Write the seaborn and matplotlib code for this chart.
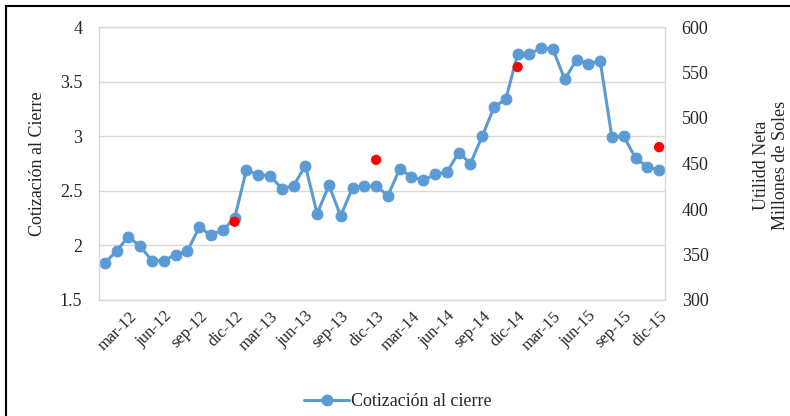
import matplotlib
matplotlib.use("Agg")
import matplotlib.pyplot as plt
import seaborn as sns
import numpy as np
import pandas as pd
from matplotlib.patches import Rectangle

# Datos mensuales ene-12 a dic-15
meses = ['ene', 'feb', 'mar', 'abr', 'may', 'jun', 'jul', 'ago', 'sep', 'oct', 'nov', 'dic']
anios = ['12', '13', '14', '15']

cotizacion = [1.84, 1.95, 2.08, 1.99, 1.86, 1.86, 1.915, 1.95, 2.165, 2.095, 2.14, 2.25,
              2.69, 2.645, 2.64, 2.52, 2.545, 2.73, 2.29, 2.55, 2.27, 2.53, 2.54, 2.545,
              2.455, 2.70, 2.63, 2.595, 2.65, 2.67, 2.85, 2.75, 3.00, 3.265, 3.34, 3.75,
              3.75, 3.81, 3.795, 3.52, 3.70, 3.66, 3.69, 2.99, 3.00, 2.80, 2.72, 2.69]

# Utilidad neta anual (millones de soles), en diciembre de cada año
utilidad_meses = ['dic-12', 'dic-13', 'dic-14', 'dic-15']
utilidad = [386, 454, 556, 468]

etiquetas = [f'{m}-{a}' for a in anios for m in meses]
ticks_mostrados = [e for e in etiquetas if e.split('-')[0] in ('mar', 'jun', 'sep', 'dic')]

df = pd.DataFrame({'Mes': etiquetas, 'pos': range(len(etiquetas)), 'Cotizacion': cotizacion})
df_util = pd.DataFrame({'Mes': utilidad_meses, 'Utilidad': utilidad})
df_util['pos'] = [etiquetas.index(m) for m in utilidad_meses]

sns.set_style('white')
plt.rcParams['font.family'] = ['Liberation Serif', 'DejaVu Serif']

azul = '#5B9BD5'
gris = '#D9D9D9'

fig = plt.figure(figsize=(7.9, 4.16), dpi=100)
ax = fig.add_axes([99 / 790, 1 - 300 / 416, (665 - 99) / 790, (300 - 27) / 416])

sns.lineplot(data=df, x='pos', y='Cotizacion', ax=ax, color=azul, linewidth=2.2,
             marker='o', markersize=7.8, markeredgecolor=azul, label='Cotización al cierre')

ax.set_xlim(-0.5, len(etiquetas) - 0.5)
ax.set_ylim(1.5, 4)
ax.set_yticks(np.arange(1.5, 4.01, 0.5))
ax.set_yticklabels(['1.5', '2', '2.5', '3', '3.5', '4'], fontsize=13)
ax.yaxis.grid(True, color=gris, linewidth=1)
ax.set_xticks([etiquetas.index(t) for t in ticks_mostrados])
ax.set_xticklabels(ticks_mostrados, rotation=45, ha='right', rotation_mode='anchor', fontsize=12)
ax.tick_params(axis='both', length=0)
ax.tick_params(axis='y', pad=12)
ax.tick_params(axis='x', pad=6)
for s in ax.spines.values():
    s.set_color(gris)
    s.set_linewidth(1)
ax.set_xlabel('')
ax.set_ylabel('Cotización al Cierre', fontsize=13, labelpad=10)
ax.get_legend().remove()

ax2 = ax.twinx()
sns.scatterplot(data=df_util, x='pos', y='Utilidad', ax=ax2, color='#FF0000', s=55,
                edgecolor='none', zorder=5)
ax2.set_ylim(300, 600)
ax2.set_yticks(np.arange(300, 601, 50))
ax2.set_yticklabels([str(v) for v in range(300, 601, 50)], fontsize=13)
ax2.tick_params(axis='y', length=0, pad=12)
ax2.set_ylabel('')
ax2.set_xlabel('')
for s in ax2.spines.values():
    s.set_visible(False)

fig.text(771 / 790, 1 - 165 / 416, 'Utilidd Neta\nMillones de Soles', rotation=90,
         ha='center', va='center', multialignment='center', fontsize=13, linespacing=1.2)

fig.legend([ax.lines[0]], ['Cotización al cierre'], loc='center',
           bbox_to_anchor=(398 / 790, 1 - 402 / 416), frameon=False, fontsize=13,
           handlelength=2.5, handletextpad=0.1)

# marco exterior del gráfico
fig.patches.append(Rectangle((6 / 790, -0.1), 1.2, 1 - 6 / 416 + 0.1, transform=fig.transFigure,
                             fill=False, edgecolor='black', linewidth=1.5))

fig.savefig('out.png', dpi=100)
